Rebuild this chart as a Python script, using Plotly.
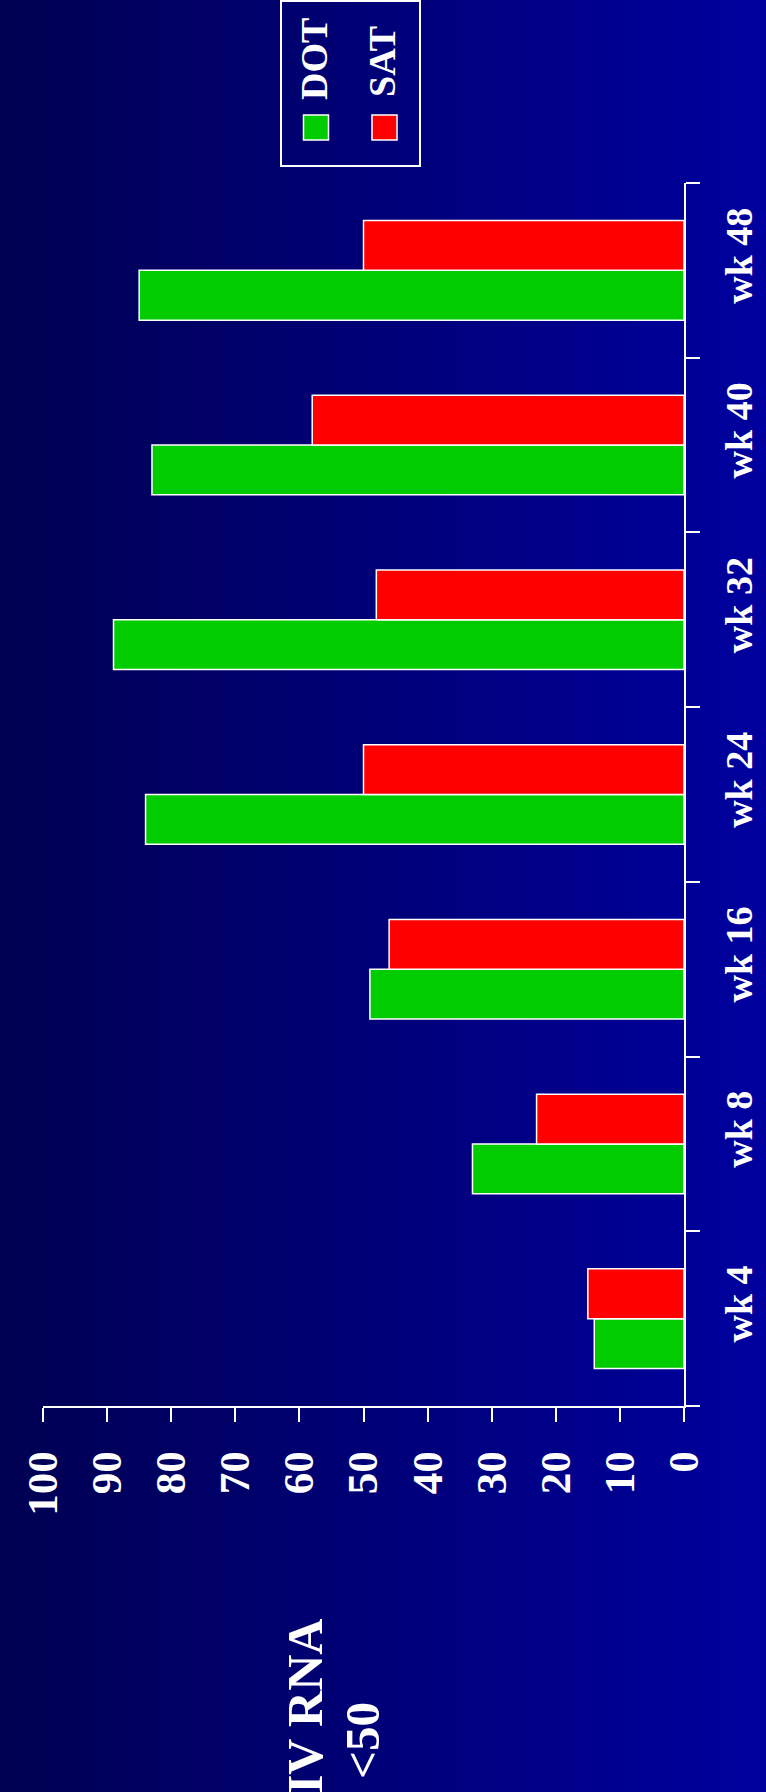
import plotly.graph_objects as go

# ---- data ----
weeks = ["wk 4", "wk 8", "wk 16", "wk 24", "wk 32", "wk 40", "wk 48"]
dot_values = [14, 33, 49, 84, 89, 83, 85]
sat_values = [15, 23, 46, 50, 48, 58, 50]
series_names = ["DOT", "SAT"]
value_ticks = [0, 10, 20, 30, 40, 50, 60, 70, 80, 90, 100]
title_line1 = "HIV RNA"
title_line2 = "&lt;50"

W, H = 766, 1792
ML, MR, MT, MB = 43, 82, 183, 386
PW, PH = W - ML - MR, H - MT - MB

def px(x):
    return (x - ML) / PW

def py(y):
    return (H - MB - y) / PH

FONT = "Liberation Serif, Times New Roman, serif"
GREEN = "#00CC00"
RED = "#FF0000"

fig = go.Figure()
fig.add_trace(go.Bar(y=weeks, x=dot_values, name=series_names[0], orientation="h",
                     marker=dict(color=GREEN, line=dict(color="white", width=1.5))))
fig.add_trace(go.Bar(y=weeks, x=sat_values, name=series_names[1], orientation="h",
                     marker=dict(color=RED, line=dict(color="white", width=1.5))))

shapes = []
# horizontal gradient background
n = 96
for i in range(n):
    t = i / (n - 1)
    b = int(round(82 + (158 - 82) * t))
    x0 = W * i / n
    x1 = W * (i + 1) / n + 1
    shapes.append(dict(type="rect", xref="paper", yref="paper", layer="below",
                       x0=px(x0), x1=px(x1), y0=py(H), y1=py(0),
                       fillcolor=f"rgb(0,0,{b})", line=dict(width=0)))

# legend box and swatches
shapes.append(dict(type="rect", xref="paper", yref="paper",
                   x0=px(281), x1=px(420), y0=py(166), y1=py(1),
                   line=dict(color="white", width=2), fillcolor="rgba(0,0,0,0)"))
shapes.append(dict(type="rect", xref="paper", yref="paper",
                   x0=px(303.5), x1=px(328.5), y0=py(140), y1=py(115),
                   line=dict(color="white", width=1.5), fillcolor=GREEN))
shapes.append(dict(type="rect", xref="paper", yref="paper",
                   x0=px(372), x1=px(397), y0=py(140), y1=py(115),
                   line=dict(color="white", width=1.5), fillcolor=RED))

annotations = [
    dict(text=series_names[0], xref="paper", yref="paper", x=px(314), y=py(59),
         xanchor="center", yanchor="middle", textangle=-90, showarrow=False,
         font=dict(family=FONT, size=38, color="white", weight="bold")),
    dict(text=series_names[1], xref="paper", yref="paper", x=px(382), y=py(62),
         xanchor="center", yanchor="middle", textangle=-90, showarrow=False,
         font=dict(family=FONT, size=38, color="white", weight="bold")),
    dict(text=title_line1, xref="paper", yref="paper", x=px(305), y=py(1617),
         xanchor="center", yanchor="top", textangle=-90, showarrow=False,
         font=dict(family=FONT, size=50, color="white", weight="bold")),
    dict(text=title_line2, xref="paper", yref="paper", x=px(362), y=py(1741),
         xanchor="center", yanchor="middle", textangle=-90, showarrow=False,
         font=dict(family=FONT, size=49, color="white", weight="bold")),
]

fig.update_layout(
    template="none",
    width=W, height=H,
    margin=dict(l=ML, r=MR, t=MT, b=MB, pad=0),
    paper_bgcolor="rgb(0,0,120)",
    plot_bgcolor="rgba(0,0,0,0)",
    barmode="group", bargap=0.43, bargroupgap=0,
    showlegend=False,
    shapes=shapes,
    annotations=annotations,
    xaxis=dict(range=[100, 0], tickvals=value_ticks, ticktext=[str(v) for v in value_ticks],
               showgrid=False, zeroline=False, showline=True, linecolor="white", linewidth=2,
               ticks="outside", ticklen=14, tickwidth=2, tickcolor="white",
               tickangle=-90, side="bottom", ticklabelstandoff=12,
               tickfont=dict(family=FONT, size=43, color="white", weight="bold")),
    yaxis=dict(type="category", categoryorder="array", categoryarray=weeks,
               side="right", showgrid=False, zeroline=False, showline=True,
               linecolor="white", linewidth=2, ticks="outside", ticklen=14, tickwidth=2,
               tickcolor="white", tickson="boundaries", tickangle=-90,
               ticklabelstandoff=20, ticklabelshift=-9,
               tickfont=dict(family=FONT, size=38, color="white", weight="bold")),
)

fig.write_html("out.html", config={"displayModeBar": False},
               post_script="document.body.style.margin='0';document.body.style.padding='0';"
                           "document.documentElement.style.overflow='hidden';")
